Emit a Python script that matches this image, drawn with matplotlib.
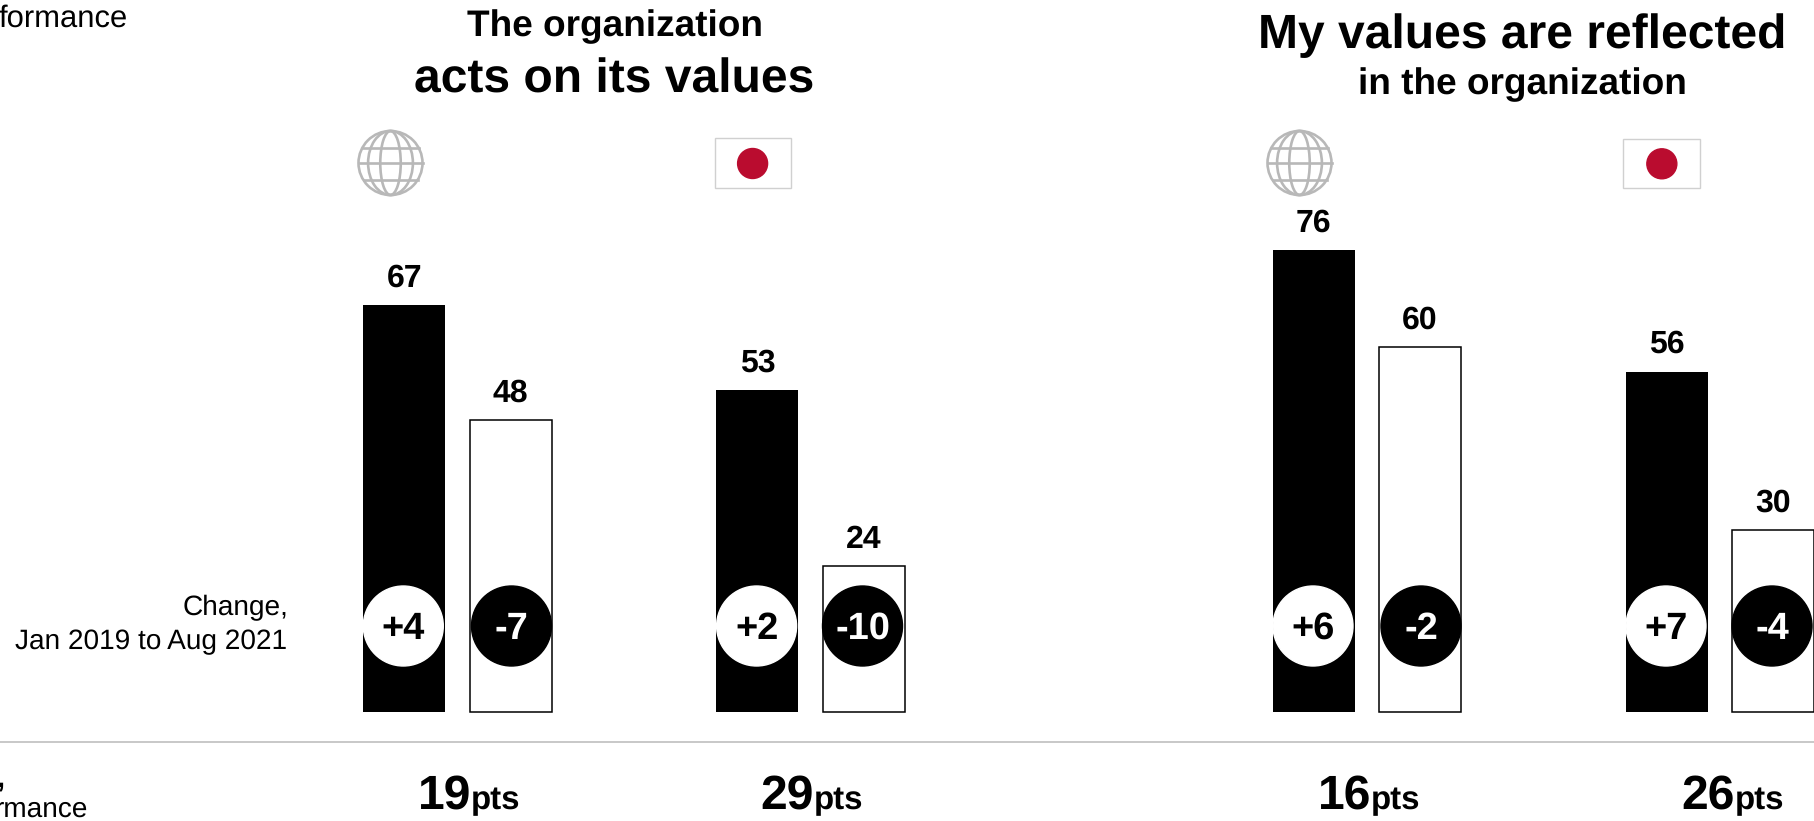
import matplotlib
matplotlib.use("Agg")
import matplotlib.pyplot as plt
from matplotlib.patches import Ellipse, Rectangle

plt.rcParams['font.family'] = ['Liberation Sans', 'DejaVu Sans']
plt.rcParams['text.hinting'] = 'no_hinting'
plt.rcParams['text.hinting_factor'] = 1

W, H = 1814, 821
BASE_PX = 712
PX_PER_UNIT = 6.08

# values
first_vals = [67, 53, 76, 56]
second_vals = [48, 24, 60, 30]
first_change = ["+4", "+2", "+6", "+7"]
second_change = ["-7", "-10", "-2", "-4"]
gaps = ["19", "29", "16", "26"]

# layout, pixels
first_left = [363.4, 716.4, 1272.8, 1625.6]
second_left = [469.6, 822.6, 1379, 1732]
bar_w = 82
first_circ = [403.3, 756.6, 1313, 1666]
second_circ = [511.5, 862.5, 1421, 1772]
gap_split = [471, 813.5, 1371, 1735]

fig = plt.figure(figsize=(W / 100, H / 100), dpi=100)
ax = fig.add_axes([0, 0, 1, 1])
ax.set_xlim(0, W)
ax.set_ylim((BASE_PX - H) / PX_PER_UNIT, BASE_PX / PX_PER_UNIT)
ax.axis("off")

# overlay in pixel coords for circles, icons and text
ov = fig.add_axes([0, 0, 1, 1], facecolor="none")
ov.set_xlim(0, W)
ov.set_ylim(H, 0)
ov.axis("off")

b1 = ax.bar(first_left, first_vals, width=bar_w, align="edge", color="black", linewidth=0)
b2 = ax.bar(second_left, second_vals, width=bar_w, align="edge", color="white", edgecolor="black", linewidth=1.1)
ax.bar_label(b1, padding=8.5, fontsize=23, fontweight="bold")
ax.bar_label(b2, padding=8.5, fontsize=23, fontweight="bold")

for x, lab in zip(first_circ, first_change):
	ov.add_patch(Ellipse((x, 626), 80, 80, color="white", zorder=3))
	ov.text(x, 629, lab, color="black", fontsize=27, fontweight="bold", ha="center", va="center", zorder=4)
for x, lab in zip(second_circ, second_change):
	ov.add_patch(Ellipse((x, 626), 80, 80, color="black", zorder=3))
	ov.text(x, 629, lab, color="white", fontsize=27, fontweight="bold", ha="center", va="center", zorder=4)


def globe(cx, cy, r=32, col="#b8b8b8"):
	for w in [1.0, 0.7, 0.32]:
		ov.add_patch(Ellipse((cx, cy), 2 * r * w, 2 * r, fill=False, edgecolor=col, linewidth=1.9))
	for dy, hw in [(-15, 28), (0, 32), (17, 27)]:
		ov.plot([cx - hw, cx + hw], [cy + dy, cy + dy], color=col, linewidth=1.9)


def flag(x0, x1, y0, y1):
	ov.add_patch(Rectangle((x0, y0), x1 - x0, y1 - y0, facecolor="white", edgecolor="#d0d0d0", linewidth=1))
	ov.add_patch(Ellipse(((x0 + x1) / 2, (y0 + y1) / 2), 30, 30, color="#ba0c2f"))


globe(390.5, 163)
globe(1299.5, 163)
flag(714.7, 790.5, 138.5, 188.5)
flag(1623.3, 1700.4, 139.3, 188.3)

# titles
ov.text(614.5, 27, "The organization", fontsize=26.8, fontweight="bold", ha="center", va="center")
ov.text(614.5, 80, "acts on its values", fontsize=34.7, fontweight="bold", ha="center", va="center")
ov.text(1522, 36, "My values are reflected", fontsize=34.8, fontweight="bold", ha="center", va="center")
ov.text(1522, 85, "in the organization", fontsize=26.8, fontweight="bold", ha="center", va="center")

# side notes, cut off by the left edge in the reference
ov.text(288, 608, "Change,", fontsize=20.5, ha="right", va="center")
ov.text(287, 642, "Jan 2019 to Aug 2021", fontsize=20.5, ha="right", va="center")
ov.text(-1, 27, "formance", fontsize=22.5, ha="left", va="baseline")
ov.text(4, 787, ",", fontsize=21, fontweight="bold", ha="right", va="baseline")
ov.text(88, 817, "rmance", fontsize=20.5, ha="right", va="baseline")

ov.plot([0, W], [741.7, 741.7], color="#bfbfbf", linewidth=1.2)

for x, g in zip(gap_split, gaps):
	ov.text(x, 809, g, fontsize=34.5, fontweight="bold", ha="right", va="baseline")
	ov.text(x, 809, "pts", fontsize=23.5, fontweight="bold", ha="left", va="baseline")

fig.savefig("out.png", dpi=100)
